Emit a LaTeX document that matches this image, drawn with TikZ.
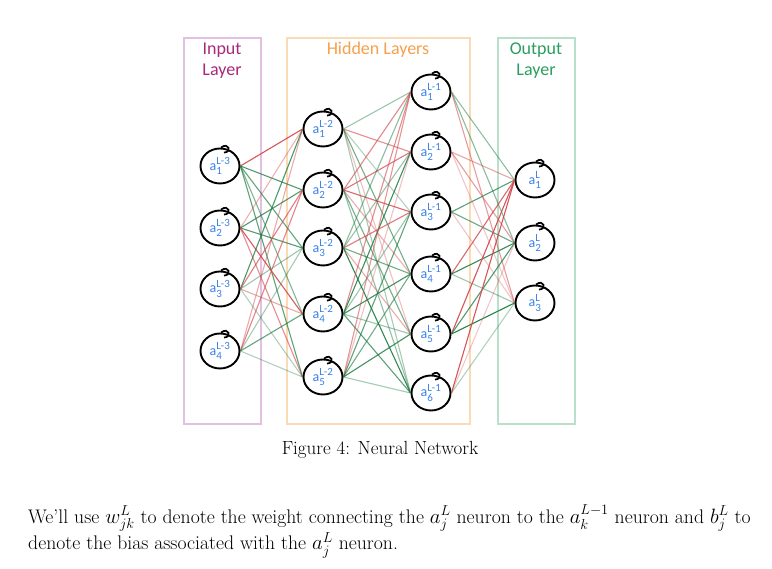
\documentclass[tikz,border=0pt]{standalone}
\usepackage{amsmath}
\usepackage{fontspec}
\newfontfamily\labelfont{Carlito}
\usepackage{tikz}
\usetikzlibrary{shapes.geometric}
\definecolor{inputtext}{HTML}{A8287A}
\definecolor{inputline}{HTML}{E2C0E0}
\definecolor{hiddentext}{HTML}{F5A04C}
\definecolor{hiddenline}{HTML}{FBDAB6}
\definecolor{outputtext}{HTML}{2A9E60}
\definecolor{outputline}{HTML}{B9E0CA}
\definecolor{labelblue}{HTML}{3A82EA}
\definecolor{wgreen}{HTML}{1A7A3E}
\definecolor{wred}{HTML}{D2474C}
\newcommand{\neurlabel}[2]{a$^{\text{\fontsize{11}{11}\selectfont #1}}_{\text{\fontsize{11}{11}\selectfont #2}}$}

\begin{document}
\begin{tikzpicture}[
x=1pt,y=-1pt,
neuron/.style={
  draw,
  ellipse,
  line width=1.9pt,
  fill=white,
  minimum width=39pt,
  minimum height=35pt,
  inner sep=0pt,
  text=labelblue,
  font=\labelfont\fontsize{14}{14}\selectfont
  },
curl/.style={line width=1.7pt},
layerbox/.style={line width=1.6pt},
layertitle/.style={align=center,font=\labelfont\fontsize{18}{21}\selectfont},
weight/.style={line width=1.1pt}
]
\useasboundingbox (0,0) rectangle (772,569);
\draw[layerbox,draw=inputline] (184,38) rectangle (261,424);
\draw[layerbox,draw=hiddenline] (287,38) rectangle (470,424);
\draw[layerbox,draw=outputline] (498,38) rectangle (575,424);
\node[layertitle,text=inputtext] (intitle) at (222,61) {Input\\Layer};
\node[layertitle,text=hiddentext] (hidtitle) at (378,50) {Hidden Layers};
\node[layertitle,text=outputtext] (outtitle) at (536,61) {Output\\Layer};
\foreach \Value/\Y in {1/166,2/228,3/289,4/351}
  \node[neuron] (i\Value) at (220,\Y) {\neurlabel{L-3}{\Value}};
\foreach \Value/\Y in {1/129,2/190,3/248,4/314,5/377}
  \node[neuron] (h\Value) at (323,\Y) {\neurlabel{L-2}{\Value}};
\foreach \Value/\Y in {1/92,2/152,3/212,4/274,5/334,6/393}
  \node[neuron] (g\Value) at (431,\Y) {\neurlabel{L-1}{\Value}};
\foreach \Value/\Y in {1/180,2/243,3/303}
  \node[neuron] (o\Value) at (535,\Y) {\neurlabel{L}{\Value}};
\foreach \N in {i1,i2,i3,i4,h1,h2,h3,h4,h5,g1,g2,g3,g4,g5,g6,o1,o2,o3}
  \draw[curl] ([xshift=1pt]\N.north) .. controls +(8,-6) and +(8,0) .. ([xshift=4pt,yshift=-5pt]\N.north);
\pgfmathsetseed{11}
\foreach \From in {1,...,4}
  \foreach \To in {1,...,5} {
    \pgfmathsetmacro\Pick{rnd}
    \pgfmathsetmacro\Fade{0.3+0.65*rnd}
    \ifdim\Pick pt<0.58pt\def\Tint{wgreen}\else\def\Tint{wred}\fi
    \draw[weight,draw=\Tint,draw opacity=\Fade] (i\From.east) -- (h\To.west);
  }
\foreach \From in {1,...,5}
  \foreach \To in {1,...,6} {
    \pgfmathsetmacro\Pick{rnd}
    \pgfmathsetmacro\Fade{0.3+0.65*rnd}
    \ifdim\Pick pt<0.58pt\def\Tint{wgreen}\else\def\Tint{wred}\fi
    \draw[weight,draw=\Tint,draw opacity=\Fade] (h\From.east) -- (g\To.west);
  }
\foreach \From in {1,...,6}
  \foreach \To in {1,...,3} {
    \pgfmathsetmacro\Pick{rnd}
    \pgfmathsetmacro\Fade{0.3+0.65*rnd}
    \ifdim\Pick pt<0.58pt\def\Tint{wgreen}\else\def\Tint{wred}\fi
    \draw[weight,draw=\Tint,draw opacity=\Fade] (g\From.east) -- (o\To.west);
  }
\node[font=\fontsize{19}{22}\selectfont] (caption) at (380,450) {Figure 4: Neural Network};
\node[anchor=base west,align=left,inner sep=0pt,font=\fontsize{19.7}{27}\selectfont] (para) at (28,550)
  {We'll use $w^L_{jk}$ to denote the weight connecting the $a^L_j$ neuron to the $a^{L-1}_k$ neuron and $b^L_j$ to\\
   denote the bias associated with the $a^L_j$ neuron.};
\end{tikzpicture}
\end{document}
